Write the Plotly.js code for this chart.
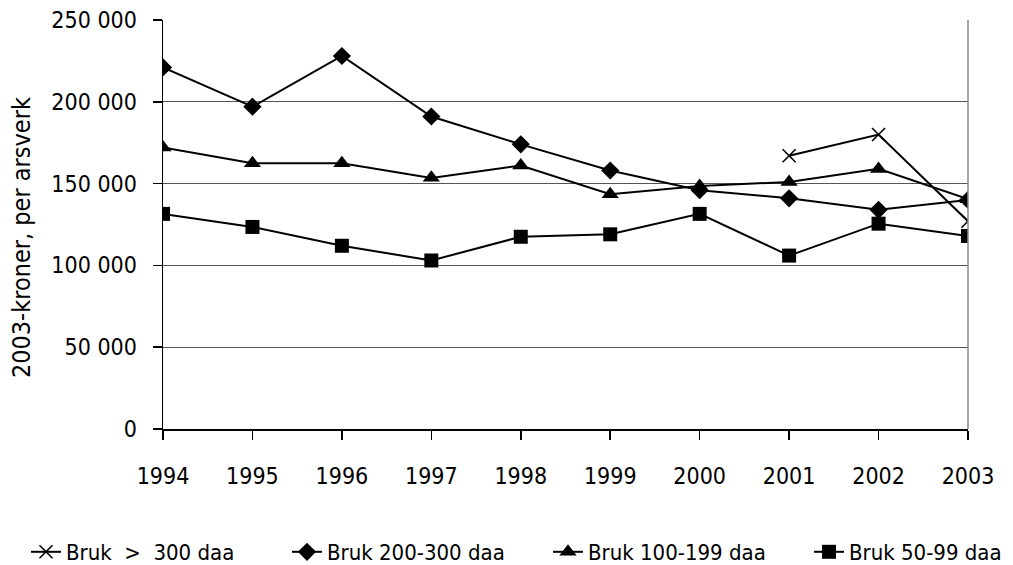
<!DOCTYPE html>
<html>
<head>
<meta charset="utf-8">
<script src="https://cdn.plot.ly/plotly-3.0.1.min.js"></script>
<style>html,body{margin:0;padding:0;background:#fff;}#chart{width:1013px;height:565px;}</style>
</head>
<body>
<div id="chart"></div>
<script>
const years = [1994, 1995, 1996, 1997, 1998, 1999, 2000, 2001, 2002, 2003];
const over300 = [null, null, null, null, null, null, null, 167000, 180000, 127000];
const b200_300 = [221000, 197000, 228000, 191000, 174000, 158000, 146000, 141000, 134000, 140000];
const b100_199 = [172000, 162500, 162500, 153500, 161000, 143500, 148500, 151000, 159000, 140500];
const b50_99 = [131500, 123500, 112000, 103000, 117500, 119000, 131500, 106000, 125500, 118000];
const names = ["Bruk \u00a0>\u00a0 300 daa", "Bruk 200-300 daa", "Bruk 100-199 daa", "Bruk 50-99 daa"];
const yTitle = '2003-kroner, per arsverk';

const FONT = '"DejaVu Sans Condensed", "Liberation Sans Narrow", sans-serif';
const line = {color: '#000', width: 2};
const traces = [
  {x: years, y: over300, name: names[0], legend: 'legend', mode: 'lines+markers', line: line,
   marker: {symbol: 'x-thin-open', size: 13, color: '#000', line: {color: '#000', width: 1.6}}},
  {x: years, y: b200_300, name: names[1], legend: 'legend2', mode: 'lines+markers', line: line,
   marker: {symbol: 'diamond', size: 14, color: '#000'}},
  {x: years, y: b100_199, name: names[2], legend: 'legend3', mode: 'lines+markers', line: line,
   marker: {symbol: 'triangle-up', size: 15, color: '#000'}},
  {x: years, y: b50_99, name: names[3], legend: 'legend4', mode: 'lines+markers', line: line,
   marker: {symbol: 'square', size: 14, color: '#000'}}
];

const textStarts = [66, 327, 588, 849];
function leg(i) {
  return {orientation: 'h', xref: 'container', yref: 'container', x: (textStarts[i] - 40) / 1013,
          xanchor: 'left', y: 13 / 565, yanchor: 'middle',
          font: {family: FONT, size: 22, color: '#000'}, itemwidth: 30, bgcolor: 'rgba(0,0,0,0)'};
}

const layout = {
  width: 1013, height: 565,
  margin: {l: 163, r: 45, t: 20, b: 136, autoexpand: false},
  paper_bgcolor: '#fff', plot_bgcolor: '#fff',
  separators: ', ',
  font: {family: FONT, size: 23, color: '#000'},
  showlegend: true,
  legend: leg(0), legend2: leg(1), legend3: leg(2), legend4: leg(3),
  xaxis: {range: [1994, 2003], tickmode: 'array', tickvals: years, ticktext: years.map(String),
          showgrid: false, zeroline: false, showline: true, linecolor: '#000', linewidth: 1.5,
          ticks: 'outside', ticklen: 9, tickwidth: 1.5, tickcolor: '#000',
          ticklabelstandoff: 17, tickfont: {family: FONT, size: 23, color: '#000'}},
  yaxis: {range: [0, 250000], tickmode: 'linear', tick0: 0, dtick: 50000, tickformat: ',d',
          showgrid: true, gridcolor: '#555', gridwidth: 1, zeroline: false,
          showline: true, linecolor: '#000', linewidth: 1.5,
          ticks: 'outside', ticklen: 9, tickwidth: 1.5, tickcolor: '#000',
          ticklabelstandoff: 11, tickfont: {family: FONT, size: 23, color: '#000'}},
  annotations: [{text: yTitle, xref: 'paper', yref: 'paper', x: -0.175, y: 0.467,
                 xanchor: 'center', yanchor: 'middle', textangle: -90, showarrow: false,
                 font: {family: FONT, size: 25, color: '#000'}}],
  shapes: [{type: 'line', xref: 'paper', yref: 'paper', x0: 1, x1: 1, y0: 0, y1: 1,
            line: {color: '#888', width: 1.5}}]
};

Plotly.newPlot('chart', traces, layout, {displayModeBar: false, staticPlot: true});
</script>
</body>
</html>
